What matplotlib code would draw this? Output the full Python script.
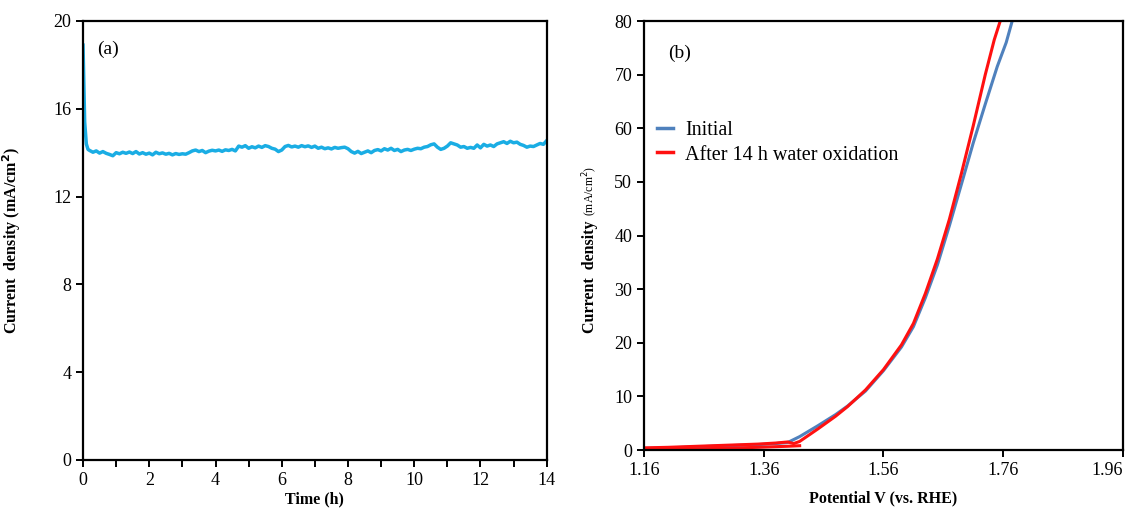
import matplotlib
matplotlib.use("Agg")
import matplotlib.pyplot as plt
from matplotlib.ticker import MultipleLocator
from matplotlib.lines import Line2D

plt.rcParams['font.family'] = ['Liberation Serif', 'DejaVu Serif']

# (a) chronoamperometry, current density (mA/cm2) vs time (h)
time_start = [0, 0.02, 0.05, 0.1, 0.15]
time_grid = [round(0.1 * i, 1) for i in range(2, 141)]  # 0.2 .. 14.0 h
time_h = time_start + time_grid
current_a = [18.9, 17.5, 15.4, 14.4, 14.15,
             14.1, 14.02, 14.08, 13.98, 14.05, 13.97, 13.92, 13.86,
             14.0, 13.95, 14.02, 13.97, 14.03, 13.96, 14.05, 13.94, 14.0, 13.93,
             13.98, 13.9, 14.02, 13.95, 13.99, 13.93, 13.97, 13.9, 13.96, 13.92,
             13.95, 13.93, 14.0, 14.08, 14.12, 14.05, 14.1, 14.0, 14.07, 14.11,
             14.08, 14.12, 14.06, 14.13, 14.1, 14.15, 14.08, 14.3, 14.25, 14.32,
             14.2, 14.27, 14.22, 14.3, 14.24, 14.32, 14.28, 14.2, 14.16, 14.05,
             14.12, 14.28, 14.33, 14.26, 14.3, 14.25, 14.32, 14.27, 14.31, 14.24,
             14.3, 14.2, 14.25, 14.18, 14.22, 14.17, 14.24, 14.2, 14.23, 14.25,
             14.18, 14.05, 13.98, 14.06, 13.96, 14.02, 14.08, 14.0, 14.1, 14.14,
             14.08, 14.18, 14.12, 14.2, 14.1, 14.15, 14.05, 14.12, 14.15, 14.1,
             14.16, 14.2, 14.18, 14.25, 14.28, 14.36, 14.4, 14.25, 14.15, 14.2,
             14.3, 14.45, 14.4, 14.35, 14.25, 14.28, 14.2, 14.24, 14.2, 14.35,
             14.22, 14.38, 14.3, 14.35, 14.28, 14.4, 14.45, 14.5, 14.42, 14.52,
             14.45, 14.48, 14.38, 14.33, 14.25, 14.3, 14.28, 14.35, 14.42, 14.38,
             14.55]

# (b) polarization curves, potential V vs RHE / current density mA/cm2
v_init = [1.16, 1.20, 1.25, 1.30, 1.35, 1.38, 1.40, 1.42, 1.45, 1.48, 1.50,
          1.53, 1.56, 1.59, 1.61, 1.63, 1.65, 1.67, 1.69, 1.71, 1.73, 1.75, 1.765, 1.775]
j_init = [0.3, 0.4, 0.6, 0.8, 1.0, 1.2, 1.4, 2.5, 4.5, 6.6, 8.2,
          11.0, 14.8, 19.2, 23.0, 28.4, 34.5, 41.8, 49.5, 57.3, 64.5, 71.5, 76.0, 80.0]
v_after = [1.16, 1.20, 1.25, 1.30, 1.35, 1.38, 1.40, 1.41, 1.42, 1.45, 1.48, 1.50,
           1.53, 1.56, 1.59, 1.61, 1.63, 1.65, 1.67, 1.69, 1.71, 1.73, 1.745, 1.755]
j_after = [0.4, 0.5, 0.7, 0.9, 1.1, 1.3, 1.5, 1.2, 1.6, 3.9, 6.3, 8.1,
           11.2, 15.0, 19.6, 23.6, 29.2, 35.6, 43.0, 51.5, 60.5, 70.0, 76.5, 80.0]
v_after_back = [1.42, 1.40, 1.35, 1.30, 1.25, 1.20, 1.16]
j_after_back = [0.8, 0.7, 0.5, 0.35, 0.2, 0.1, 0.05]

blue_a = '#1AADE4'
blue_b = '#4F81BD'
red_b = '#FF1010'

fig = plt.figure(figsize=(11.31, 5.09), dpi=100)
axa = fig.add_axes([0.0734, 0.0963, 0.410, 0.8625])
axb = fig.add_axes([0.5694, 0.1159, 0.4235, 0.8428])

# panel a
axa.plot(time_h, current_a, color=blue_a, lw=2.5)
axa.set_xlim(0, 14)
axa.set_ylim(0, 20)
axa.xaxis.set_major_locator(MultipleLocator(2))
axa.xaxis.set_minor_locator(MultipleLocator(1))
axa.yaxis.set_major_locator(MultipleLocator(4))
axa.set_xlabel('Time (h)', fontsize=11.5, fontweight='bold', labelpad=2)
axa.set_ylabel('Current  density (mA/cm$^\\mathbf{2}$)', fontsize=11.5, fontweight='bold')
axa.yaxis.set_label_coords(-0.13, 0.5)
axa.text(0.03, 0.935, '(a)', transform=axa.transAxes, fontsize=14, va='center')

# panel b
axb.plot(v_init, j_init, color=blue_b, lw=2.2, label='Initial')
axb.plot(v_after_back, j_after_back, color=red_b, lw=2.2)
axb.plot(v_after, j_after, color=red_b, lw=2.2, label='After 14 h water oxidation')
axb.set_xlim(1.16, 1.96)
axb.set_ylim(0, 80)
axb.set_xticks([1.16, 1.36, 1.56, 1.76, 1.96])
axb.set_xticklabels(['1.16', '1.36', '1.56', '1.76', '1.96'])
axb.get_xticklabels()[-1].set_horizontalalignment('right')
axb.yaxis.set_major_locator(MultipleLocator(10))
axb.set_xlabel('Potential V (vs. RHE)', fontsize=11.5, fontweight='bold', labelpad=8)
axb.text(-0.112, 0.545, 'Current  density ', transform=axb.transAxes, rotation=90,
         fontsize=11.5, fontweight='bold', ha='center', va='top')
axb.text(-0.112, 0.545, '(mA/cm$^2$)', transform=axb.transAxes, rotation=90,
         fontsize=8.5, ha='center', va='bottom')
axb.text(0.05, 0.925, '(b)', transform=axb.transAxes, fontsize=14, va='center')

handles = [Line2D([], [], color=blue_b, lw=2.5), Line2D([], [], color=red_b, lw=2.5)]
axb.legend(handles, ['Initial', 'After 14 h water oxidation'], loc='upper left',
           bbox_to_anchor=(0.01, 0.785), frameon=False, fontsize=14.5,
           handlelength=0.8, handletextpad=0.6, labelspacing=0.25, borderaxespad=0)

for ax in (axa, axb):
    for s in ax.spines.values():
        s.set_linewidth(1.6)
        s.set_color('black')
    ax.tick_params(which='both', direction='out', width=1.4, labelsize=13)
    ax.tick_params(which='major', length=5)
    ax.tick_params(which='minor', length=5)

fig.savefig('out.png', dpi=100)
